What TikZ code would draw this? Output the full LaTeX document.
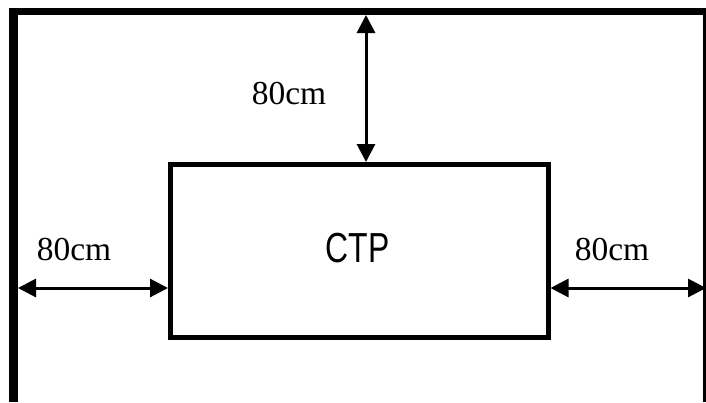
\documentclass[tikz,border=0pt]{standalone}
\usepackage{fontspec}
\usepackage{graphicx}
\setmainfont{Liberation Serif}
\newfontfamily\ctpfont{Liberation Sans}
\usetikzlibrary{arrows.meta}
\tikzset{
  wall/.style={fill=black, draw=none},
  dim/.style={line width=3pt, {Triangle[length=18pt,width=18pt]}-{Triangle[length=18pt,width=18pt]}},
  dimlabel/.style={font=\fontsize{33.5}{38}\selectfont, anchor=base, inner sep=0pt},
  box/.style={draw, line width=5pt, minimum width=377.5pt, minimum height=173pt, inner sep=0pt}
}
\begin{document}
\begin{tikzpicture}[x=1pt,y=-1pt]
\useasboundingbox (0,0) rectangle (706,402);
\fill[white] (0,0) rectangle (706,402);
% walls
\fill[wall] (9,8) rectangle (18,402);
\fill[wall] (9,8) rectangle (706,15);
\fill[wall] (703,8) rectangle (706,402);
% CTP box
\node[box] (ctp) at (359.25,251) {};
\node[font=\ctpfont\fontsize{42}{46}\selectfont, anchor=base, inner sep=0pt] (ctplabel) at (357.5,262) {\scalebox{0.76}[1]{CTP}};
% wall points
\coordinate (topwall) at (366,15);
\coordinate (leftwall) at (18,288);
\coordinate (rightwall) at (706,288);
% dimensions
\draw[dim] (topwall) -- (topwall |- ctp.north);
\draw[dim] (leftwall) -- (leftwall -| ctp.west);
\draw[dim] (rightwall -| ctp.east) -- (rightwall);
% labels
\node[dimlabel] (ltop) at (289,104) {80cm};
\node[dimlabel] (lleft) at (74,260) {80cm};
\node[dimlabel] (lright) at (612,260) {80cm};
\end{tikzpicture}
\end{document}
